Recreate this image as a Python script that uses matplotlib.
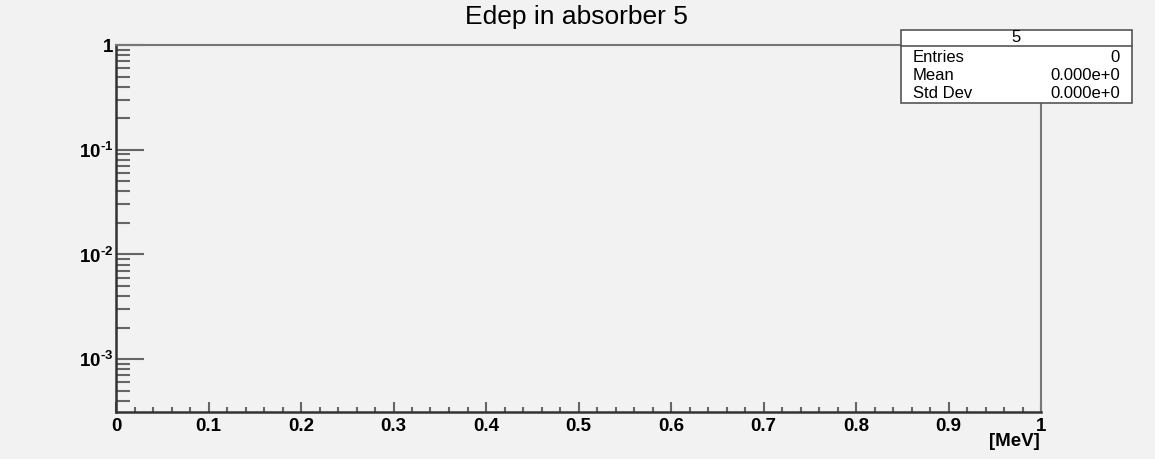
import math

import matplotlib
matplotlib.use("Agg")
import matplotlib.pyplot as plt
from matplotlib.ticker import FixedLocator, LogLocator, MultipleLocator, FuncFormatter

plt.rcParams["font.family"] = ["Liberation Sans", "DejaVu Sans"]
plt.rcParams["mathtext.fontset"] = "custom"
plt.rcParams["mathtext.rm"] = "Liberation Sans:bold"
plt.rcParams["mathtext.bf"] = "Liberation Sans:bold"

title = "Edep in absorber 5"
x_label = "[MeV]"
energies = []  # no entries recorded
bin_edges = [i / 100 for i in range(101)]
x_range = (0.0, 1.0)
y_range = (3.12e-4, 1.0)
stat_name = "5"
stat_rows = [("Entries", "0"), ("Mean", "0.000e+0"), ("Std Dev", "0.000e+0")]

BG = "#f2f2f2"
W, H = 1155, 459
PX = 72 / 100  # points per pixel

fig = plt.figure(figsize=(W / 100, H / 100), dpi=100, facecolor=BG)
ax = fig.add_axes([116 / W, 1 - 412 / H, (1041 - 116) / W, (412 - 45) / H])
ax.set_facecolor(BG)

ax.hist(energies, bins=bin_edges, histtype="step", color="#3b5bb5")

ax.set_yscale("log")
ax.set_xlim(*x_range)
ax.set_ylim(*y_range)

ax.xaxis.set_major_locator(MultipleLocator(0.1))
ax.xaxis.set_minor_locator(MultipleLocator(0.02))
ax.xaxis.set_major_formatter(FuncFormatter(
    lambda v, p: "0" if abs(v) < 1e-9 else ("1" if abs(v - 1) < 1e-9 else f"{v:.1f}")))

ax.yaxis.set_major_locator(FixedLocator([1e-3, 1e-2, 1e-1, 1]))
ax.yaxis.set_minor_locator(LogLocator(base=10, subs=range(2, 10)))


def yfmt(v, p):
    e = int(round(math.log10(v)))
    if e == 0:
        return "1"
    return r"10$^{\mathbf{\text{-}%d}}$" % (-e)


ax.yaxis.set_major_formatter(FuncFormatter(yfmt))
ax.yaxis.set_minor_formatter(FuncFormatter(lambda v, p: ""))

tick_col = "#666666"
ax.tick_params(axis="x", which="major", direction="in", length=10 * PX, width=1.5, color=tick_col,
               labelsize=13.5, pad=4, top=False)
ax.tick_params(axis="x", which="minor", direction="in", length=5 * PX, width=1.5, color=tick_col, top=False)
ax.tick_params(axis="y", which="major", direction="in", length=28 * PX, width=1.5, color=tick_col,
               labelsize=13.5, pad=2, right=False)
ax.tick_params(axis="y", which="minor", direction="in", length=14 * PX, width=1.5, color=tick_col, right=False)
for lab in ax.get_xticklabels() + ax.get_yticklabels():
    lab.set_fontweight("bold")

for side in ("left", "bottom"):
    ax.spines[side].set_color("#333333")
    ax.spines[side].set_linewidth(1.8)
for side in ("top", "right"):
    ax.spines[side].set_color("#777777")
    ax.spines[side].set_linewidth(1.5)

fig.text(576 / W, 1 - 17 / H, title, ha="center", va="center", fontsize=19)
fig.text(1040 / W, 1 - 441 / H, x_label, ha="right", va="center", fontsize=13.5, fontweight="bold")

# stat box
bx0, bx1, by0, by1 = 901, 1132, 30, 103
hdr = 46
box = plt.Rectangle((bx0 / W, 1 - by1 / H), (bx1 - bx0) / W, (by1 - by0) / H,
                    transform=fig.transFigure, facecolor="white", edgecolor="#555555", lw=1.2, zorder=5)
fig.add_artist(box)
fig.add_artist(plt.Line2D([bx0 / W, bx1 / W], [1 - hdr / H, 1 - hdr / H], transform=fig.transFigure,
                          color="#555555", lw=1.2, zorder=6))
fig.text((bx0 + bx1) / 2 / W, 1 - 38 / H, stat_name, ha="center", va="center", fontsize=12, zorder=7)
for i, (k, v) in enumerate(stat_rows):
    y = 1 - (57 + i * 18.5) / H
    fig.text(913 / W, y, k, ha="left", va="center", fontsize=12, zorder=7)
    fig.text(1120 / W, y, v, ha="right", va="center", fontsize=12, zorder=7)

fig.savefig("out.png", dpi=100, facecolor=BG)
